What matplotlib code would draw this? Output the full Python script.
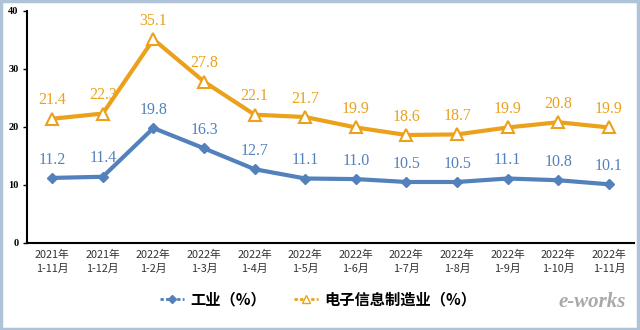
import matplotlib
matplotlib.use("Agg")
import matplotlib.pyplot as plt
from matplotlib.patches import Rectangle
from matplotlib.lines import Line2D

categories = ["2021年\n1-11月", "2021年\n1-12月", "2022年\n1-2月", "2022年\n1-3月",
              "2022年\n1-4月", "2022年\n1-5月", "2022年\n1-6月", "2022年\n1-7月",
              "2022年\n1-8月", "2022年\n1-9月", "2022年\n1-10月", "2022年\n1-11月"]
industry = [11.2, 11.4, 19.8, 16.3, 12.7, 11.1, 11.0, 10.5, 10.5, 11.1, 10.8, 10.1]
electronics = [21.4, 22.3, 35.1, 27.8, 22.1, 21.7, 19.9, 18.6, 18.7, 19.9, 20.8, 19.9]
series_names = ["工业（%）", "电子信息制造业（%）"]
yticks = [0, 10, 20, 30, 40]

BLUE = "#5281BC"
ORANGE = "#EBA11C"
CJK = ["Noto Sans CJK SC", "DejaVu Sans"]
SERIF = ["Liberation Serif", "DejaVu Serif"]

fig = plt.figure(figsize=(6.4, 3.3), dpi=100)
fig.patch.set_facecolor("white")
fig.add_artist(Rectangle((0.002, 0.003), 0.995, 0.993, transform=fig.transFigure,
                         fill=False, edgecolor="#AFC3D8", linewidth=2.5))

ax = fig.add_axes([0.042, 0.264, 0.949, 0.703])
x = [i + 0.5 for i in range(len(categories))]

ax.plot(x, industry, color=BLUE, lw=3, marker="D", ms=5.5, mfc=BLUE, mec=BLUE, zorder=3)
ax.plot(x, electronics, color=ORANGE, lw=3, marker="^", ms=9, mfc="white", mec=ORANGE,
        mew=1.5, zorder=3)

for xi, v in zip(x, industry):
    ax.annotate(f"{v:.1f}", (xi, v), xytext=(0, 7.5), textcoords="offset points",
                ha="center", va="bottom", color=BLUE, fontsize=11.5, family=SERIF)
for xi, v in zip(x, electronics):
    ax.annotate(f"{v:.1f}", (xi, v), xytext=(0, 7.5), textcoords="offset points",
                ha="center", va="bottom", color=ORANGE, fontsize=11.5, family=SERIF)

ax.set_xlim(0, len(categories))
ax.set_ylim(0, 40)
ax.set_yticks(yticks)
ax.set_yticklabels([str(t) for t in yticks], family=SERIF, fontweight="bold", fontsize=7.5)
ax.set_xticks(x)
ax.set_xticklabels(categories, family=CJK, fontsize=7.8, color="#333333", linespacing=1.45)
ax.tick_params(axis="x", length=0, pad=5)
ax.tick_params(axis="y", length=3, width=1, pad=3, direction="out")
for s in ["top", "right"]:
    ax.spines[s].set_visible(False)
for s in ["left", "bottom"]:
    ax.spines[s].set_color("black")
    ax.spines[s].set_linewidth(1.5)

handles = [
    Line2D([], [], color=BLUE, lw=2, ls=(0, (1.2, 0.8)), marker="D", ms=4.5, mfc=BLUE, mec=BLUE),
    Line2D([], [], color=ORANGE, lw=2, ls=(0, (1.2, 0.8)), marker="^", ms=6, mfc="white", mec=ORANGE),
]
fig.legend(handles, series_names, loc="center", bbox_to_anchor=(0.497, 0.093), ncol=2,
           frameon=False, prop={"family": CJK, "size": 11, "weight": "bold"},
           handlelength=1.6, handletextpad=0.4, columnspacing=1.8)

fig.text(0.925, 0.085, "e-works", ha="center", va="center", fontsize=15, style="italic",
         fontweight="bold", family=SERIF, color="#9A9A9A", alpha=0.85)

fig.savefig("out.png", dpi=100, facecolor="white")
